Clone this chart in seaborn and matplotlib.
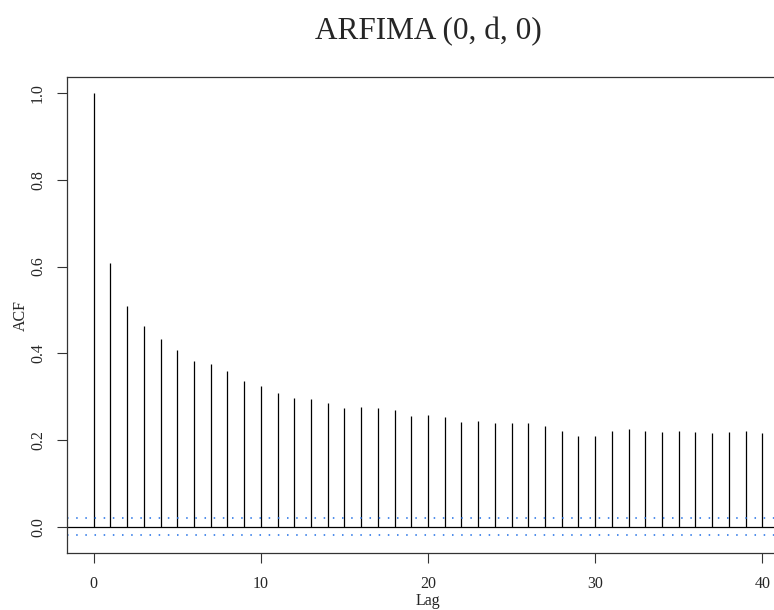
import numpy as np
import pandas as pd
import matplotlib
matplotlib.use("Agg")
import matplotlib.pyplot as plt
import seaborn as sns

# ACF values, lag 0..40
lags = list(range(41))
acf_vals = [1.000, 0.608, 0.508, 0.463, 0.432, 0.408, 0.383, 0.375, 0.358, 0.335,
            0.325, 0.308, 0.296, 0.294, 0.285, 0.274, 0.277, 0.274, 0.269, 0.255,
            0.257, 0.252, 0.241, 0.243, 0.239, 0.239, 0.239, 0.232, 0.221, 0.210,
            0.210, 0.221, 0.225, 0.221, 0.218, 0.221, 0.218, 0.215, 0.218, 0.221,
            0.215]
ci = 0.0195
x_ticks = [0, 10, 20, 30, 40]
y_ticks = [0.0, 0.2, 0.4, 0.6, 0.8, 1.0]

df = pd.DataFrame({"Lag": lags, "ACF": acf_vals})

sns.set_theme(style="white")
plt.rcParams['font.family'] = ['Liberation Serif', 'DejaVu Serif']

fig = plt.figure(figsize=(7.74, 6.10), dpi=100)
# right edge of the plot box runs past the picture, as in the reference
ax = fig.add_axes([67/774, 1 - 553.3/610, (789 - 67)/774, (553.3 - 76.7)/610])

ax.vlines(df["Lag"], 0, df["ACF"], color="black", linewidth=0.9)
ax.axhline(0, color="black", linewidth=0.9)
ax.axhline(ci, color="#1e6ee6", linewidth=1.1, linestyle=(0, (1, 5)))
ax.axhline(-ci, color="#1e6ee6", linewidth=1.1, linestyle=(0, (1, 5)))

ax.set_xlim(-1.6, 41.6)
ax.set_ylim(-0.0614, 1.038)
ax.set_xticks(x_ticks)
ax.set_yticks(y_ticks)
ax.set_xticklabels([str(t) for t in x_ticks], fontsize=11.5)
ax.set_yticklabels(["%.1f" % t for t in y_ticks], fontsize=11.5, rotation=90, va="center")
ax.tick_params(axis="both", direction="out", length=7.2, width=0.8, color="#333333",
               bottom=True, left=True)
ax.tick_params(axis="x", pad=9.5)
ax.tick_params(axis="y", pad=8)

for s in ax.spines.values():
    s.set_color("#333333")
    s.set_linewidth(0.9)

h = 553.3 - 76.7
ax.set_xlabel("Lag", fontsize=11.5)
ax.xaxis.set_label_coords(0.5, -(593 - 553.3) / h)
ax.set_ylabel("ACF", fontsize=11.5)
ax.yaxis.set_label_coords(-(67 - 29) / (789 - 67), (553.3 - 316) / h)
fig.text((67 + 789) / 2 / 774, 1 - 32/610, "ARFIMA (0, d, 0)", ha="center", va="center",
         fontsize=22.5)

fig.savefig("out.png", dpi=100)
